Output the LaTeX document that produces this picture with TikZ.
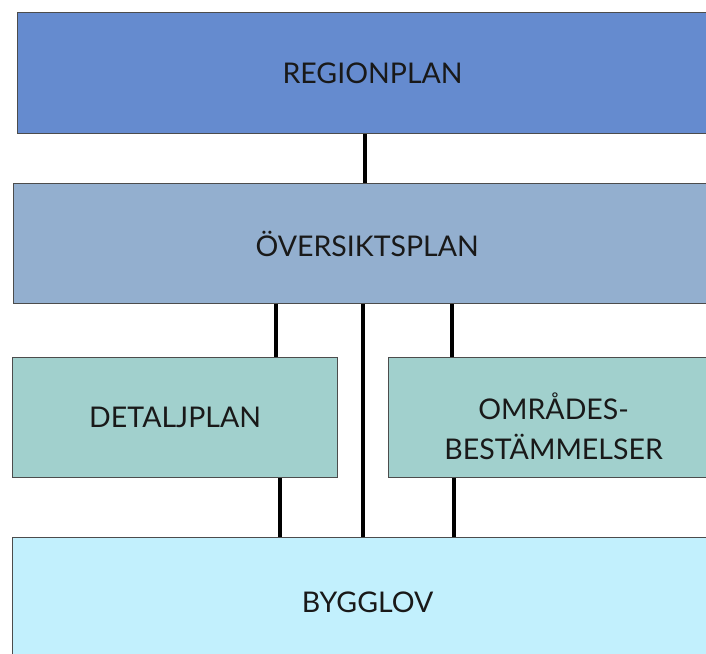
\documentclass[tikz,border=0pt]{standalone}
\usepackage{fontspec}
\setmainfont{Lato}
\usetikzlibrary{positioning}

\definecolor{regionblue}{HTML}{658BCF}
\definecolor{oversiktblue}{HTML}{93AFCF}
\definecolor{detaljgreen}{HTML}{A1D0CD}
\definecolor{bygglovcyan}{HTML}{C2F0FD}

\begin{document}
\begin{tikzpicture}[x=1pt, y=-1pt,
  planfont/.style={font=\fontsize{28.5}{40}\selectfont, text=black!90},
  planbox/.style={draw=black!70, line width=1.2pt, inner sep=0pt, anchor=north west,
    align=center, planfont},
  link/.style={line width=3.5pt, black}]
\path[use as bounding box, clip] (0,0) rectangle (706,653);

% planning levels
\node[planbox, fill=regionblue, minimum width=710, minimum height=121] (Region) at (17,12) {REGIONPLAN};
\node[planbox, fill=oversiktblue, minimum width=707, minimum height=120] (Oversikt) at (13,183) {ÖVERSIKTSPLAN};
\node[planbox, fill=detaljgreen, minimum width=325, minimum height=120] (Detalj) at (12,357) {DETALJPLAN};
\node[planbox, fill=detaljgreen, minimum width=330, minimum height=120,
  label={[planfont, align=center, yshift=-9pt]center:{OMRÅDES-\\BESTÄMMELSER}}] (Omrade) at (388,357) {};
\node[planbox, fill=bygglovcyan, minimum width=710, minimum height=130] (Bygglov) at (12,537) {BYGGLOV};

% connections
\draw[link] (Region.south -| 365,0) -- (Oversikt.north -| 365,0);
\draw[link] (Oversikt.south -| 276,0) -- (Detalj.north -| 276,0);
\draw[link] (Oversikt.south -| 452,0) -- (Omrade.north -| 452,0);
\draw[link] (Oversikt.south -| 363,0) -- (Bygglov.north -| 363,0);
\draw[link] (Detalj.south -| 280,0) -- (Bygglov.north -| 280,0);
\draw[link] (Omrade.south -| 454,0) -- (Bygglov.north -| 454,0);
\end{tikzpicture}
\end{document}
